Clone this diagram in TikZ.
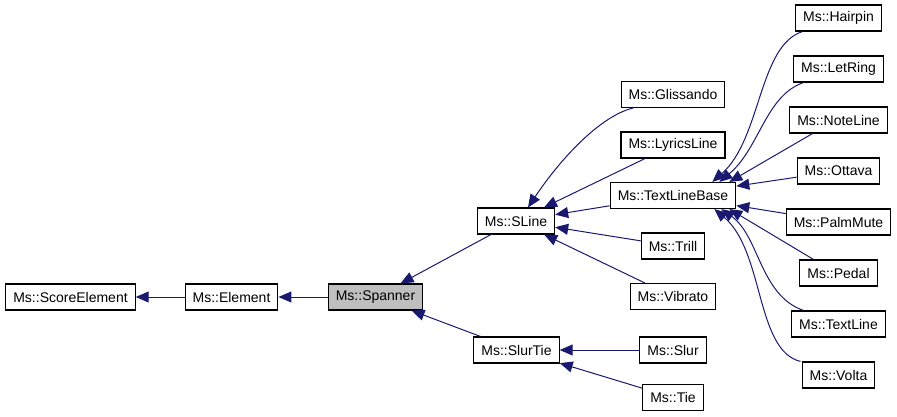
\documentclass[tikz,border=0pt]{standalone}
\usepackage{fontspec}
\setmainfont{Liberation Sans}
\usepackage{tikz}
\usetikzlibrary{arrows.meta, positioning}
\definecolor{edgeblue}{RGB}{25, 25, 112}
\definecolor{cur}{RGB}{191, 191, 191}
\tikzstyle{cls} = [rectangle, draw=black, line width=1.1pt, fill=white, minimum height=26pt, inner xsep=7.5pt, font=\fontsize{14}{16}\selectfont]
\tikzstyle{inh} = [draw=edgeblue, line width=1pt, {Triangle[length=13pt, width=11pt]}-]

\begin{document}
\begin{tikzpicture}[x=1pt, y=-1pt, node distance=23.9pt]
\useasboundingbox (0,0) rectangle (897,417);

% inheritance chain
\node[cls] (scoreelement) at (70.5,297) {Ms::ScoreElement};
\node[cls] (element) at (231.5,297) {Ms::Element};
\node[cls, fill=cur] (spanner) at (375.5,297) {Ms::Spanner};
\node[cls] (sline) at (516,221) {Ms::SLine};
\node[cls] (slurtie) at (516.5,350) {Ms::SlurTie};

% middle column
\node[cls] (gliss) at (673,94.5) {Ms::Glissando};
\node[cls, below=23.4pt of gliss] (lyrics) {Ms::LyricsLine};
\node[cls, below=23.4pt of lyrics] (tlb) {Ms::TextLineBase};
\node[cls, below=23.4pt of tlb] (trill) {Ms::Trill};
\node[cls, below=23.4pt of trill] (vibrato) {Ms::Vibrato};
\node[cls] (slur) at (673,350) {Ms::Slur};
\node[cls] (tie) at (673,397.5) {Ms::Tie};

% right column
\node[cls] (hairpin) at (838.5,18) {Ms::Hairpin};
\node[cls, below=of hairpin] (letring) {Ms::LetRing};
\node[cls, below=of letring] (noteline) {Ms::NoteLine};
\node[cls, below=of noteline] (ottava) {Ms::Ottava};
\node[cls, below=of ottava] (palmmute) {Ms::PalmMute};
\node[cls, below=of palmmute] (pedal) {Ms::Pedal};
\node[cls, below=of pedal] (textline) {Ms::TextLine};
\node[cls, below=of textline] (volta) {Ms::Volta};

\draw[inh] (scoreelement) -- (element);
\draw[inh] (element) -- (spanner);
\draw[inh] (spanner) -- (sline);
\draw[inh] (spanner) -- (slurtie);

\draw[inh] ([xshift=12pt]sline.north) .. controls +(32,-48) and +(-33,8) .. ([xshift=-40pt]gliss.south);
\draw[inh] (sline) -- (lyrics);
\draw[inh] (sline) -- (tlb);
\draw[inh] (sline) -- (trill);
\draw[inh] (sline) -- (vibrato);
\draw[inh] (slurtie) -- (slur);
\draw[inh] (slurtie) -- (tie);

\draw[inh] ([xshift=-24pt]tlb.north east) .. controls +(49,-43) and +(-44,14) .. ([xshift=-36pt]hairpin.south);
\draw[inh] ([xshift=-17pt]tlb.north east) .. controls +(40,-33) and +(-38,13) .. ([xshift=-35pt]letring.south);
\draw[inh] ([xshift=-7pt]tlb.north east) -- ([xshift=-26pt]noteline.south);
\draw[inh] (tlb) -- (ottava);
\draw[inh] (tlb) -- (palmmute);
\draw[inh] ([xshift=-7pt]tlb.south east) -- ([xshift=-25pt]pedal.north);
\draw[inh] ([xshift=-15pt]tlb.south east) .. controls +(38,27) and +(-43.5,-15) .. ([xshift=-35pt]textline.north);
\draw[inh] ([xshift=-22pt]tlb.south east) .. controls +(50,42) and +(-45,-11) .. ([xshift=-38pt]volta.north);

\end{tikzpicture}
\end{document}
